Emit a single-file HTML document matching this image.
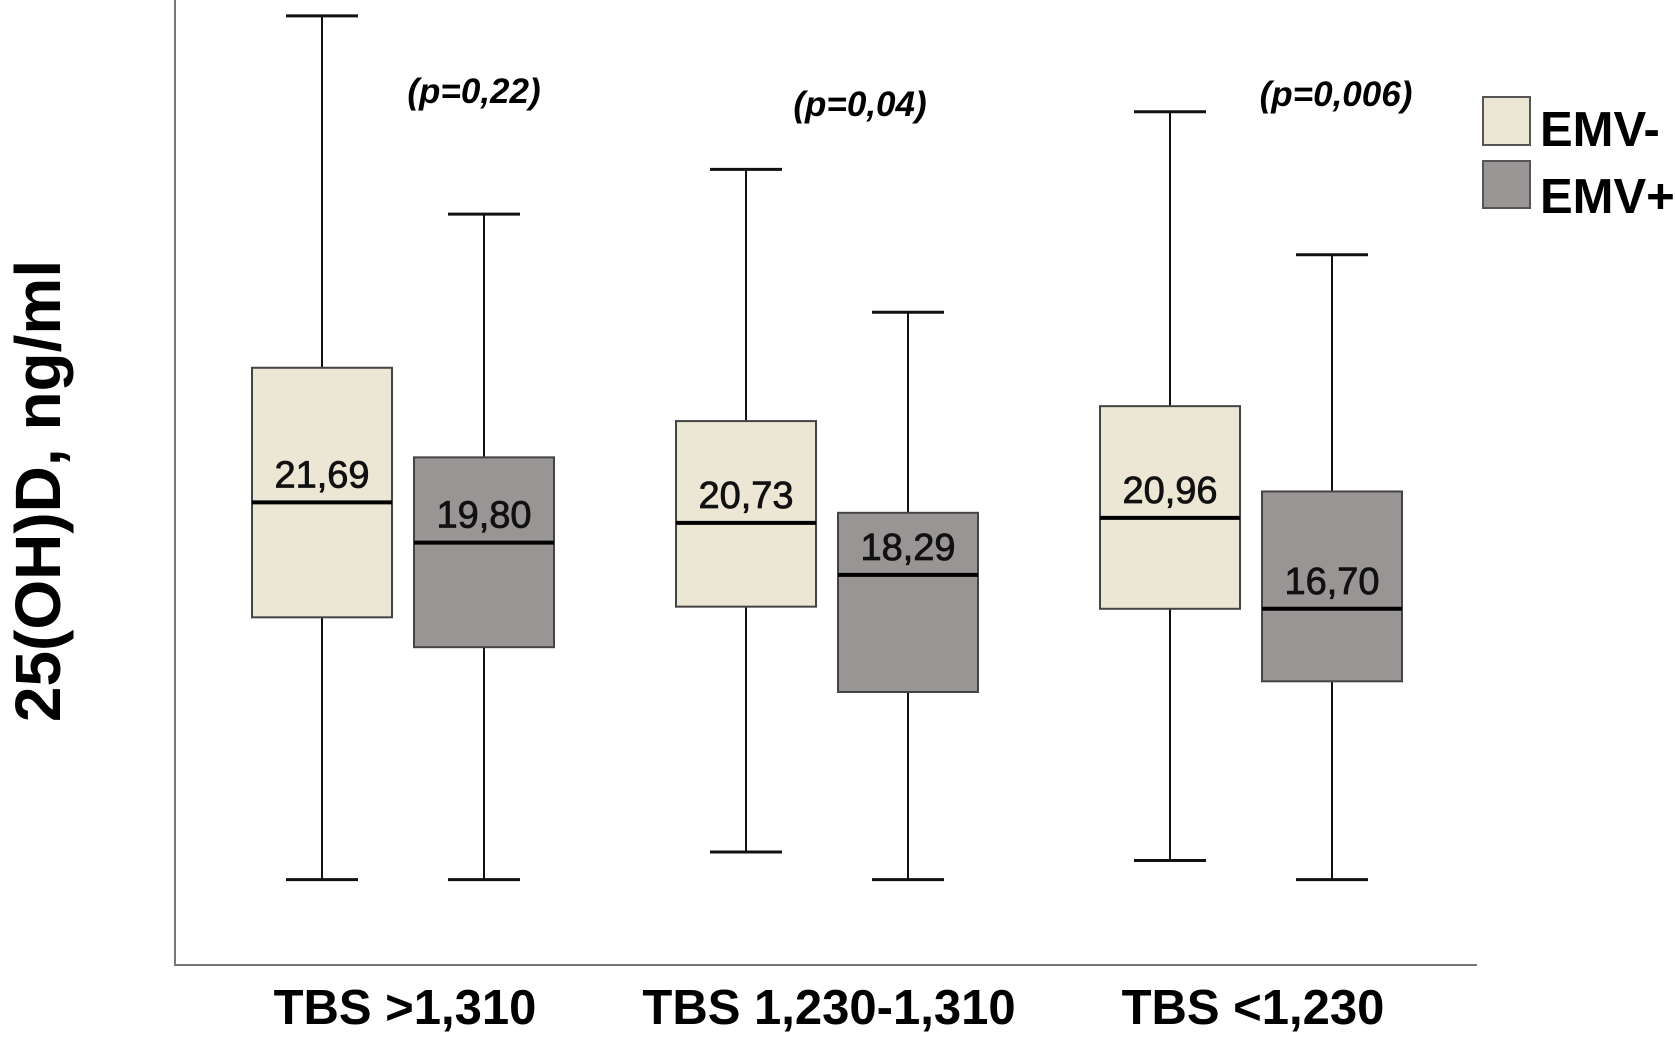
<!DOCTYPE html>
<html><head><meta charset="utf-8"><style>
html,body{margin:0;padding:0;background:#fff}
svg{display:block;font-family:"Liberation Sans",Arial,sans-serif}
</style></head><body>
<svg id="chart" width="1675" height="1043" viewBox="0 0 1675 1043">
<g id="axes">
<line x1="175" y1="0" x2="175" y2="966" stroke="#777" stroke-width="2"/>
<line x1="174" y1="965" x2="1477" y2="965" stroke="#777" stroke-width="2"/>
<text x="0" y="0" transform="translate(60,491) rotate(-90)" text-anchor="middle" font-size="64" font-weight="bold">25(OH)D, ng/ml</text>
</g>
<g id="marks"></g>
<g>
<rect x="1483" y="97" width="47" height="48" fill="#ece6d4" stroke="#555" stroke-width="2"/>
<text x="1540" y="146" font-size="49" font-weight="bold">EMV-</text>
<rect x="1483" y="161" width="47" height="47" fill="#989594" stroke="#555" stroke-width="2"/>
<text x="1540" y="213" font-size="49" font-weight="bold">EMV+</text>
</g>
</svg>
<script>
const categories = ["TBS >1,310", "TBS 1,230-1,310", "TBS <1,230"];
const pLabels = ["(p=0,22)", "(p=0,04)", "(p=0,006)"];
const minusWhiskTop = [44.5, 37.3, 40.0];
const minusQ3 = [28.0, 25.5, 26.2];
const minusMedian = [21.69, 20.73, 20.96];
const minusQ1 = [16.3, 16.8, 16.7];
const minusWhiskBot = [4.0, 5.3, 4.9];
const plusWhiskTop = [35.2, 30.6, 33.3];
const plusQ3 = [23.8, 21.2, 22.2];
const plusMedian = [19.80, 18.29, 16.70];
const plusQ1 = [14.9, 12.8, 13.3];
const plusWhiskBot = [4.0, 4.0, 4.0];
const medianLabels = [["21,69","20,73","20,96"],["19,80","18,29","16,70"]];
const pLabelY = [91, 104, 94];
const pLabelX = [474, 860, 1336];

const NS = "http://www.w3.org/2000/svg";
const g = document.getElementById("marks");
function y(v){ return 965 - v * 21.33; }
function groupX(i){ return 403 + i * 424; }
function mk(tag, attrs){ const e = document.createElementNS(NS, tag); for (const k in attrs) e.setAttribute(k, attrs[k]); g.appendChild(e); return e; }

const series = [
  {name:"emv-minus", off:-81, fill:"#ece6d4", top:minusWhiskTop, q3:minusQ3, med:minusMedian, q1:minusQ1, bot:minusWhiskBot},
  {name:"emv-plus", off:81, fill:"#989594", top:plusWhiskTop, q3:plusQ3, med:plusMedian, q1:plusQ1, bot:plusWhiskBot}
];
categories.forEach((cat, i) => {
  series.forEach((s, si) => {
    const cx = groupX(i) + s.off, hw = 70, cw = 36;
    const w1 = mk("line", {x1:cx, x2:cx, y1:y(s.top[i]), y2:y(s.q3[i]), stroke:"#111", "stroke-width":2});
    
    
    const w2 = mk("line", {x1:cx, x2:cx, y1:y(s.q1[i]), y2:y(s.bot[i]), stroke:"#111", "stroke-width":2});
    
    
    const c1 = mk("line", {x1:cx-cw, x2:cx+cw, y1:y(s.top[i]), y2:y(s.top[i]), stroke:"#111", "stroke-width":3});
    
    
    const c2 = mk("line", {x1:cx-cw, x2:cx+cw, y1:y(s.bot[i]), y2:y(s.bot[i]), stroke:"#111", "stroke-width":3});
    
    
    const b = mk("rect", {x:cx-hw, y:y(s.q3[i]), width:hw*2, height:y(s.q1[i])-y(s.q3[i]), fill:s.fill, stroke:"#444", "stroke-width":2});
    
    
    const m = mk("line", {x1:cx-hw, x2:cx+hw, y1:y(s.med[i]), y2:y(s.med[i]), stroke:"#000", "stroke-width":4});
    
    
    const t = mk("text", {x:cx, y:y(s.med[i])-15, "text-anchor":"middle", "font-size":38, fill:"#111", stroke:"#111", "stroke-width":0.8});
    t.textContent = medianLabels[si][i];
    
    
  });
  const p = mk("text", {x:pLabelX[i], y:pLabelY[i]+12, "text-anchor":"middle", "font-size":35, "font-weight":"bold", "font-style":"italic"});
  p.textContent = pLabels[i];
  
  
  const c = mk("text", {x:groupX(i)+2, y:1024, "text-anchor":"middle", "font-size":49, "font-weight":"bold"});
  c.textContent = cat;
  
  
});
</script>
</body></html>
